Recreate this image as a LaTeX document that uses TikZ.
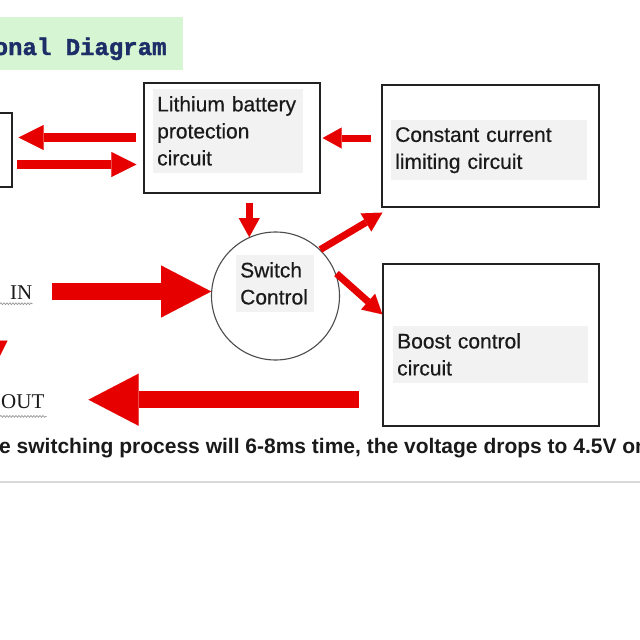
\documentclass[tikz,border=0pt]{standalone}
\usepackage{fontspec}
\setmainfont{Liberation Sans}
\newfontfamily\titlefont{Liberation Mono}[BoldFeatures={FakeBold=1.6}]
\newfontfamily\labelfont{Liberation Sans}[FakeBold=0.5]
\newfontfamily\timesfont{Liberation Serif}
\usetikzlibrary{arrows.meta,calc,decorations.pathmorphing}
\definecolor{ared}{HTML}{E60000}
\definecolor{boxline}{HTML}{222222}
\definecolor{txt}{HTML}{1A1A1A}
\definecolor{lblbg}{HTML}{F2F2F2}
\definecolor{titlebg}{HTML}{D6F5D2}
\definecolor{titlefg}{HTML}{1C2D68}
\tikzset{
  blockbox/.style={draw=boxline, line width=1.4pt, fill=white, inner sep=0pt},
  lbl/.style={fill=lblbg, text=txt, anchor=north west, align=left, inner xsep=4pt, inner ysep=7pt,
    font=\labelfont\fontsize{21}{27}\selectfont},
  bigarr/.style={draw=ared, line width=17pt, -{Triangle[length=50pt,width=52pt,line width=0.01pt]}},
  medarr/.style={draw=ared, line width=9pt, -{Triangle[length=25pt,width=25pt,line width=0.01pt]}},
  smallarr/.style={draw=ared, line width=7pt, -{Triangle[length=19pt,width=21pt,line width=0.01pt]}},
  squig/.style={draw=gray!80, line width=0.7pt, decorate, decoration={snake, amplitude=0.9pt, segment length=3pt}},
}
\begin{document}
\begin{tikzpicture}[x=1pt, y=-1pt]
\useasboundingbox (0,0) rectangle (640,640);
\clip (0,0) rectangle (640,640);
\fill[white] (0,0) rectangle (640,640);
% title
\fill[titlebg] (0,17) rectangle (183,70);
\node[anchor=base west, inner sep=0pt, text=titlefg, font=\titlefont\bfseries\fontsize{24}{24}\selectfont] (title) at (-6.5,55) {onal Diagram};
% boxes
\node[blockbox, minimum width=72pt, minimum height=74pt] (leftbox) at (-24,150) {};
\node[blockbox, minimum width=176pt, minimum height=110pt] (lith) at (232,138) {};
\node[blockbox, minimum width=217pt, minimum height=122pt] (const) at (490.5,146) {};
\node[blockbox, minimum width=216pt, minimum height=162pt] (boost) at (491,345) {};
\node[circle, draw=gray!60!black, line width=1.1pt, minimum size=128pt, inner sep=0pt] (sw) at (275.5,296) {};
% labels
\node[lbl, text width=142pt] (lithtxt) at (153,89) {Lithium battery\\protection\\circuit};
\node[lbl, text width=188pt] (consttxt) at (391,120) {Constant current\\limiting circuit};
\node[lbl, text width=187pt] (boosttxt) at (393,326) {Boost control\\circuit};
\node[lbl, text width=70pt] (swtxt) at (236,255) {Switch\\Control};
% IN / OUT
\node[anchor=base west, inner sep=0pt, text=txt, font=\timesfont\fontsize{21}{21}\selectfont] (in) at (10,299) {IN};
\node[anchor=base west, inner sep=0pt, text=txt, font=\timesfont\fontsize{21}{21}\selectfont] (out) at (1,408) {OUT};
\draw[squig] ($(in.south west)+(-10,4.5)$) -- ($(in.south east)+(0,4.5)$);
\draw[squig] ($(out.south west)+(-1,8)$) -- ($(out.south east)+(2,8)$);
% arrows
\draw[medarr, shorten <=7pt, shorten >=6pt] ($(lith.west)+(0,-0.5)$) -- ($(lith.west -| leftbox.east)+(0,-0.5)$);
\draw[medarr, shorten <=4pt, shorten >=7pt] ($(lith.west -| leftbox.east)+(0,26.5)$) -- ($(lith.west)+(0,26.5)$);
\draw[smallarr, shorten <=10pt, shorten >=2pt] (const.west |- lith.east) -- (lith.east);
\draw[smallarr, shorten <=9pt] (sw.114 |- lith.south) -- (sw.114);
\draw[smallarr] (sw.46) -- ($(const.south west)+(1,5)$);
\draw[smallarr, shorten <=1pt] (sw.21) -- ($(boost.north west)+(0,51)$);
\draw[bigarr, shorten <=19pt] (in.east |- sw.176) -- (sw.176);
\draw[bigarr, shorten <=23pt, shorten >=44pt] ($(boost.south west)+(0,-27)$) -- ($(out.east |- boost.south west)+(0,-27)$);
\draw[medarr, shorten <=12pt] ($(leftbox.south)+(19,0)$) -- ($(leftbox.south)+(19,178)$);
% caption
\node[anchor=base west, inner sep=0pt, text=txt, font=\bfseries\fontsize{21}{21}\selectfont] (caption) at (-1,453) {e switching process will 6-8ms time, the voltage drops to 4.5V on};
\coordinate (rl) at (0,482);
\coordinate (rr) at (640,482);
\draw[gray!30, line width=2pt] (rl) -- (rr);
\end{tikzpicture}
\end{document}
